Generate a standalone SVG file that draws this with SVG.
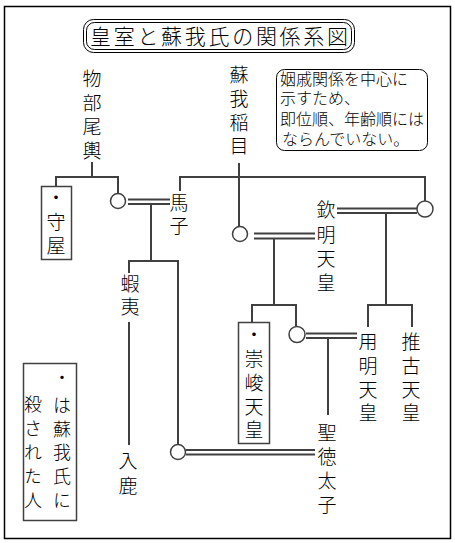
<svg xmlns="http://www.w3.org/2000/svg" width="455" height="543" viewBox="0 0 455 543">
<style>
.v{font-family:"Noto Sans CJK JP","Noto Sans CJK SC",sans-serif;font-size:19px;fill:#000;writing-mode:vertical-rl;text-anchor:start;font-weight:300}
.s{font-size:18px}
.n{font-family:"DejaVu Sans","Noto Sans CJK JP","Noto Sans CJK SC",sans-serif;font-size:16px;fill:#000;font-weight:300}
.c{fill:none;stroke:#404040;stroke-width:2}
.o{fill:#fff;stroke:#404040;stroke-width:1.5}
.b{fill:#fff;stroke:#404040;stroke-width:1.5}
</style>
<rect x="0" y="0" width="455" height="543" fill="#fff"/>
<rect x="4.5" y="6.5" width="446" height="532" fill="none" stroke="#000" stroke-width="1.5"/>

<g id="title">
<rect x="83.5" y="19.5" width="271" height="33" rx="10" fill="none" stroke="#000" stroke-width="1"/>
<rect x="86.5" y="22.5" width="265" height="27" rx="8" fill="none" stroke="#000" stroke-width="1"/>
<text x="90" y="44" textLength="258" lengthAdjust="spacing" style="font-family:'Noto Sans CJK JP','Noto Sans CJK SC',sans-serif;font-size:21px;font-weight:300">皇室と蘇我氏の関係系図</text>
</g>

<g id="note">
<rect x="276.5" y="69.5" width="151" height="81" rx="8" fill="none" stroke="#000" stroke-width="1"/>
<text class="n" x="280" y="85">姻戚関係を中心に</text>
<text class="n" x="280" y="104">示すため、</text>
<text class="n" x="280" y="125">即位順、年齢順には</text>
<text class="n" x="282" y="145">ならんでいない。</text>
</g>

<g id="connectors">
<path class="c" d="M92 162V177M56 186V177H118V193.5"/>
<path class="c" d="M239 163V226M180 191V177H425V201"/>
<path class="c" d="M128 199.5H170M128 204H170"/>
<path class="c" d="M151 204V261M129 273V261H178V444.5"/>
<path class="c" d="M129 322V445"/>
<path class="c" d="M186 450H315M186 454.5H315"/>
<path class="c" d="M254 233.5H315M254 238.5H315"/>
<path class="c" d="M274 238.5V305M252 322V305H296V326.5"/>
<path class="c" d="M306 333.5H357M306 338H357"/>
<path class="c" d="M328 338V415"/>
<path class="c" d="M337 208.5H417M337 213H417"/>
<path class="c" d="M386 213V305M368 327V305H412V327"/>
</g>

<g id="mononobe-okoshi"><text class="v" x="92" y="69.5" letter-spacing="5">物部尾輿</text></g>
<g id="soga-iname"><text class="v" x="239" y="65.5" letter-spacing="4.7">蘇我稲目</text></g>
<g id="moriya">
<rect class="b" x="41.5" y="186.5" width="30" height="73"/>
<text class="v" x="56" y="188.5" letter-spacing="5">・守屋</text>
</g>
<g id="wife-umako"><circle class="o" cx="118" cy="201" r="7.5"/></g>
<g id="umako"><text class="v" x="179" y="193.5" letter-spacing="4">馬子</text></g>
<g id="wife-kinmei-1"><circle class="o" cx="240" cy="234" r="7.5"/></g>
<g id="wife-kinmei-2"><circle class="o" cx="425" cy="209" r="8"/></g>
<g id="kinmei"><text class="v" x="326" y="200.5" letter-spacing="5.3">欽明天皇</text></g>
<g id="emishi"><text class="v" x="130" y="274.5" letter-spacing="4">蝦夷</text></g>
<g id="iruka"><text class="v" x="128" y="451.5" letter-spacing="6">入鹿</text></g>
<g id="sushun">
<rect class="b" x="238.5" y="322.5" width="31" height="121"/>
<text class="v" x="254" y="325.5" letter-spacing="4.8">・崇峻天皇</text>
</g>
<g id="wife-yomei"><circle class="o" cx="297" cy="334.5" r="8"/></g>
<g id="yomei"><text class="v" x="368" y="332.5" letter-spacing="4.7">用明天皇</text></g>
<g id="suiko"><text class="v" x="411" y="332.5" letter-spacing="4.7">推古天皇</text></g>
<g id="wife-shotoku"><circle class="o" cx="178" cy="452" r="7.5"/></g>
<g id="shotoku"><text class="v" x="327" y="423.5" letter-spacing="5">聖徳太子</text></g>
<g id="legend">
<rect class="b" x="23.5" y="363.5" width="53" height="157"/>
<text class="v s" x="62" y="368">・</text>
<text class="v s" x="62" y="396" letter-spacing="5.75">は蘇我氏に</text>
<text class="v s" x="33" y="395" letter-spacing="6">殺された人</text>
</g>
</svg>
